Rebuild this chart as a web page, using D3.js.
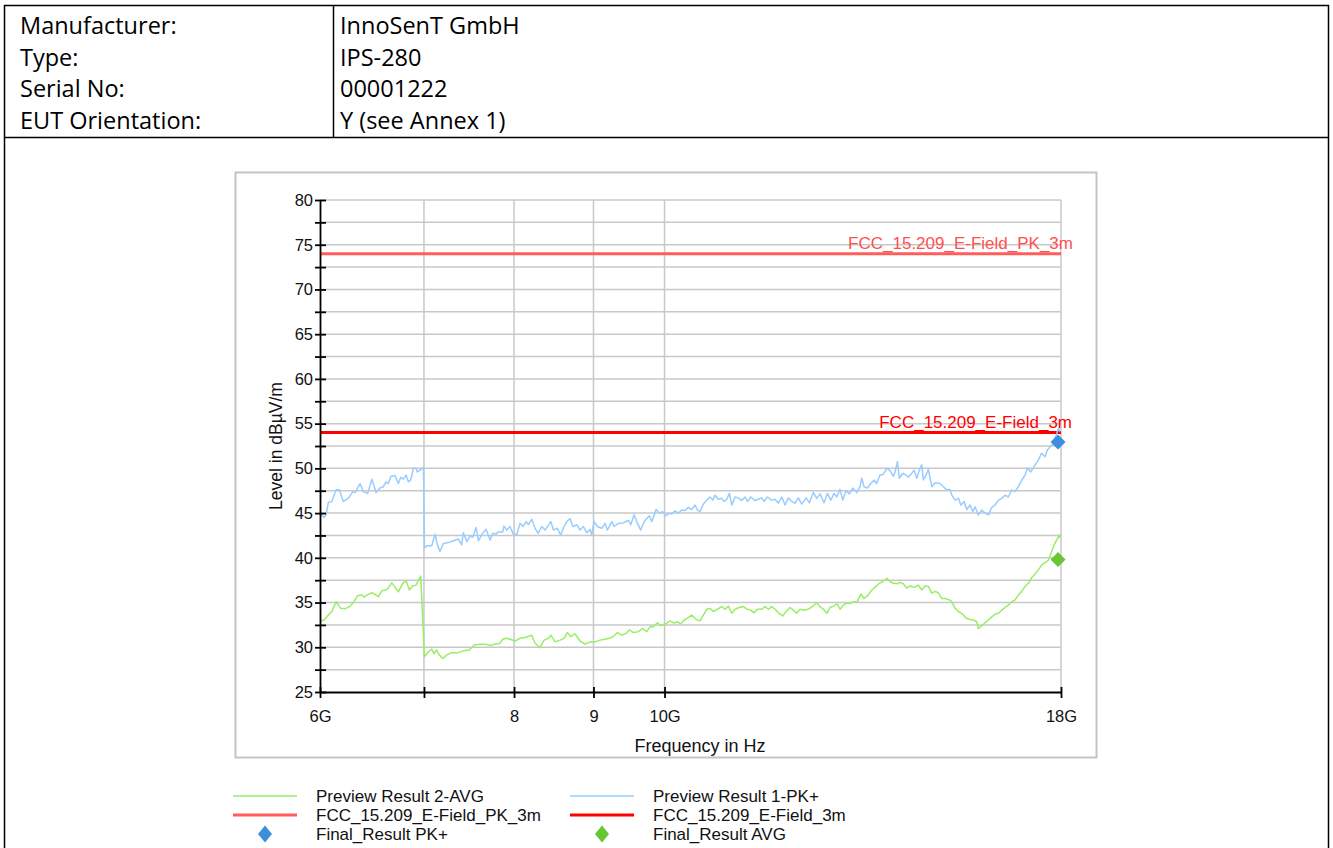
<!DOCTYPE html>
<html><head><meta charset="utf-8">
<script src="https://cdn.jsdelivr.net/npm/d3@7"></script>
<style>body{margin:0;background:#fff;}svg{display:block;}</style>
</head><body>
<svg id="c" width="1333" height="848"></svg>
<script>
// ---------- data ----------
const headerLabels = ["Manufacturer:", "Type:", "Serial No:", "EUT Orientation:"];
const headerValues = ["InnoSenT GmbH", "IPS-280", "00001222", "Y (see Annex 1)"];

const xTickValues = [6, 7, 8, 9, 10, 18];           // GHz
const xTickLabels = ["6G", "", "8", "9", "10G", "18G"];
const yMajorTicks = [25, 30, 35, 40, 45, 50, 55, 60, 65, 70, 75, 80];
const yMinorTicks = [27.5, 32.5, 37.5, 42.5, 47.5, 52.5, 57.5, 62.5, 67.5, 72.5, 77.5];

const limitPK = 74;   // FCC_15.209_E-Field_PK_3m
const limitAVG = 54;  // FCC_15.209_E-Field_3m

// Preview Result 1-PK+  [GHz, dBµV/m]
const pkTrace = [
[6.000,45.0],[6.036,44.5],[6.054,44.8],[6.075,46.2],[6.106,46.3],[6.145,47.6],[6.174,47.6],[6.211,46.3],[6.258,46.65],[6.299,47.4],
[6.320,47.3],[6.367,48.3],[6.398,47.4],[6.440,47.2],[6.479,48.8],[6.520,47.3],[6.558,47.8],[6.591,47.95],[6.617,48.5],[6.640,48.3],
[6.664,49.1],[6.706,49.2],[6.739,48.3],[6.763,49.0],[6.789,48.8],[6.817,49.25],[6.840,48.5],[6.864,48.7],[6.891,50.0],[6.918,50.0],
[6.931,49.6],[6.959,49.8],[6.995,50.1],[7.005,41.1],[7.029,41.35],[7.081,41.35],[7.116,42.65],[7.140,41.45],[7.168,40.7],[7.204,41.6],
[7.258,41.7],[7.312,41.9],[7.366,42.1],[7.403,41.45],[7.421,42.8],[7.459,41.8],[7.495,42.45],[7.525,42.3],[7.562,43.4],[7.588,41.9],
[7.637,42.75],[7.675,43.2],[7.721,42.0],[7.752,42.75],[7.789,42.65],[7.816,42.9],[7.867,42.9],[7.882,43.55],[7.914,43.1],[7.953,43.5],
[7.985,42.75],[8.032,42.55],[8.071,43.85],[8.111,43.5],[8.144,44.05],[8.172,43.7],[8.213,44.3],[8.253,43.3],[8.293,42.75],[8.335,43.5],
[8.377,43.1],[8.448,44.05],[8.481,43.1],[8.531,43.3],[8.573,42.55],[8.616,43.5],[8.651,44.05],[8.693,44.4],[8.728,43.5],[8.780,43.7],
[8.822,43.1],[8.866,43.5],[8.911,42.8],[8.955,43.2],[8.977,42.55],[9.008,44.05],[9.052,43.5],[9.111,43.3],[9.156,43.85],[9.187,43.1],
[9.248,44.05],[9.279,43.5],[9.338,43.85],[9.408,43.9],[9.478,44.2],[9.512,43.7],[9.558,44.8],[9.596,44.05],[9.653,43.1],[9.701,44.05],
[9.778,44.7],[9.813,44.05],[9.875,45.4],[9.923,45.0],[9.973,45.15],[10.022,44.7],[10.072,45.0],[10.108,44.9],[10.157,45.25],[10.207,45.0],
[10.258,45.35],[10.309,45.3],[10.360,45.65],[10.412,45.4],[10.463,45.9],[10.498,45.35],[10.540,45.15],[10.592,46.0],[10.646,46.45],[10.698,46.8],
[10.741,46.45],[10.778,47.0],[10.830,46.55],[10.885,46.65],[10.923,46.3],[10.966,46.55],[11.009,47.2],[11.048,45.9],[11.102,46.8],[11.156,46.7],
[11.212,46.4],[11.268,46.8],[11.307,46.3],[11.364,46.8],[11.436,46.4],[11.492,46.55],[11.550,46.7],[11.590,46.3],[11.647,46.8],[11.723,46.45],
[11.781,46.55],[11.838,46.1],[11.898,46.8],[11.956,45.9],[12.015,46.7],[12.076,46.3],[12.135,46.1],[12.194,46.7],[12.256,46.0],[12.335,46.7],
[12.395,46.15],[12.469,47.3],[12.532,46.65],[12.592,47.15],[12.668,46.15],[12.731,47.2],[12.795,46.45],[12.858,47.2],[12.909,46.8],[12.971,47.65],
[13.024,46.45],[13.088,47.5],[13.153,47.15],[13.219,47.8],[13.297,47.3],[13.362,47.95],[13.396,48.9],[13.442,47.95],[13.509,47.8],[13.577,48.3],
[13.643,48.7],[13.697,48.3],[13.764,49.25],[13.832,49.35],[13.903,50.0],[13.971,49.75],[14.040,49.1],[14.075,49.6],[14.123,50.75],[14.164,48.9],
[14.236,49.45],[14.306,49.25],[14.355,49.0],[14.428,49.45],[14.477,49.8],[14.534,48.9],[14.590,49.8],[14.642,50.4],[14.677,48.7],[14.737,49.25],
[14.787,49.9],[14.862,47.95],[14.934,48.4],[15.045,48.3],[15.119,47.95],[15.196,47.6],[15.271,47.65],[15.309,47.0],[15.384,46.45],[15.460,46.65],
[15.514,45.9],[15.591,46.3],[15.654,45.4],[15.731,45.9],[15.794,45.15],[15.847,45.7],[15.924,44.8],[16.005,45.35],[16.084,45.0],[16.163,44.8],
[16.245,45.65],[16.324,45.9],[16.404,46.45],[16.486,46.65],[16.568,47.0],[16.649,46.8],[16.733,47.6],[16.815,47.4],[16.897,47.95],[16.982,48.7],
[17.066,49.25],[17.125,50.0],[17.211,49.6],[17.295,50.2],[17.405,50.95],[17.493,51.7],[17.580,51.3],[17.640,52.05],[17.711,52.4],[17.798,52.8],
[17.887,53.9],[17.929,54.5],[17.974,54.1]
];

// Preview Result 2-AVG  [GHz, dBµV/m]
const avgTrace = [
[6.000,32.9],[6.036,33.05],[6.066,33.5],[6.106,34.0],[6.145,35.1],[6.187,34.35],[6.227,34.3],[6.274,34.6],[6.311,35.1],[6.342,35.75],
[6.383,35.85],[6.405,35.6],[6.436,35.85],[6.479,36.1],[6.510,35.9],[6.542,35.65],[6.575,36.3],[6.608,36.4],[6.630,36.5],[6.674,37.2],
[6.706,36.7],[6.739,36.2],[6.783,37.15],[6.817,37.45],[6.850,36.4],[6.884,36.85],[6.918,36.95],[6.966,37.95],[7.005,28.95],[7.046,29.5],
[7.081,29.8],[7.105,29.3],[7.133,29.7],[7.161,29.15],[7.198,28.75],[7.241,29.15],[7.295,29.4],[7.366,29.4],[7.421,29.6],[7.487,29.7],
[7.540,30.25],[7.606,30.35],[7.664,30.35],[7.721,30.2],[7.778,30.35],[7.835,30.45],[7.867,30.9],[7.906,31.0],[7.953,30.9],[8.012,30.7],
[8.071,31.0],[8.132,31.1],[8.213,31.35],[8.253,30.45],[8.314,29.95],[8.364,30.8],[8.418,31.0],[8.448,31.35],[8.502,30.6],[8.564,30.8],
[8.616,31.0],[8.658,31.65],[8.702,31.2],[8.758,31.5],[8.822,30.7],[8.888,30.35],[8.955,30.6],[9.021,30.6],[9.088,30.8],[9.156,30.9],
[9.215,31.0],[9.270,31.2],[9.325,31.65],[9.385,31.35],[9.446,31.55],[9.493,31.95],[9.549,31.65],[9.619,31.75],[9.682,32.1],[9.740,31.75],
[9.788,32.3],[9.836,32.3],[9.894,32.75],[9.943,32.4],[10.008,32.6],[10.082,32.95],[10.142,32.7],[10.192,32.85],[10.243,32.6],[10.294,33.05],
[10.345,33.25],[10.412,33.6],[10.479,33.1],[10.540,32.95],[10.592,33.6],[10.646,34.25],[10.698,34.35],[10.751,34.0],[10.814,34.25],[10.885,34.55],
[10.939,34.25],[10.993,34.6],[11.048,33.8],[11.102,34.25],[11.172,34.45],[11.240,34.55],[11.307,34.25],[11.364,34.15],[11.419,33.85],[11.475,34.25],
[11.550,34.25],[11.607,34.55],[11.665,34.25],[11.723,34.55],[11.781,34.25],[11.838,33.85],[11.916,33.5],[11.974,34.0],[12.046,34.45],[12.105,34.15],
[12.164,33.8],[12.224,34.25],[12.298,34.15],[12.377,34.25],[12.458,34.6],[12.532,34.95],[12.592,34.55],[12.655,34.25],[12.719,33.8],[12.782,34.45],
[12.844,34.6],[12.920,34.85],[12.971,34.25],[13.036,34.7],[13.102,34.95],[13.167,34.9],[13.232,35.1],[13.310,35.1],[13.376,35.95],[13.442,35.45],
[13.529,35.85],[13.597,36.4],[13.683,36.8],[13.750,37.15],[13.819,37.35],[13.903,37.7],[13.971,37.35],[14.040,37.15],[14.123,37.1],[14.178,37.25],
[14.249,37.1],[14.321,36.6],[14.392,36.85],[14.477,36.7],[14.569,36.95],[14.642,36.4],[14.715,36.85],[14.787,36.8],[14.862,36.05],[14.934,36.25],
[15.008,36.1],[15.083,35.45],[15.158,35.45],[15.255,35.3],[15.309,35.1],[15.384,34.35],[15.460,34.0],[15.561,33.7],[15.638,33.25],[15.731,33.1],
[15.808,33.05],[15.887,32.85],[15.924,32.1],[16.005,32.4],[16.084,32.75],[16.163,33.05],[16.245,33.4],[16.324,33.7],[16.404,33.8],[16.486,34.15],
[16.568,34.45],[16.649,34.7],[16.733,35.1],[16.815,35.3],[16.897,35.85],[16.982,36.25],[17.066,36.8],[17.150,37.15],[17.237,37.8],[17.321,38.2],
[17.405,38.65],[17.493,39.2],[17.580,39.45],[17.666,39.75],[17.755,40.7],[17.816,41.45],[17.887,42.0],[17.955,42.55],[17.974,42.2]
];

// Final results [GHz, dBµV/m]
const finalPK = [[17.921, 52.95]];
const finalAVG = [[17.921, 39.8]];

const legendItems = [
  {label: "Preview Result 2-AVG", type: "line", color: "#99ee66", width: 1.5},
  {label: "Preview Result 1-PK+", type: "line", color: "#99ccff", width: 1.5},
  {label: "FCC_15.209_E-Field_PK_3m", type: "line", color: "#ff5c5c", width: 3},
  {label: "FCC_15.209_E-Field_3m", type: "line", color: "#ff0000", width: 3},
  {label: "Final_Result PK+", type: "diamond", color: "#3d8fdc"},
  {label: "Final_Result AVG", type: "diamond", color: "#66c633"}
];

// ---------- drawing ----------
const svg = d3.select("#c");
const tableFont = "'Open Sans', 'Noto Sans', sans-serif";
const chartFont = "'Liberation Sans', Arial, sans-serif";
const diamondPath = (hw, hh) => `M0,${-hh}L${hw},0L0,${hh}L${-hw},0Z`;

// header table
const tbl = svg.append("g");
tbl.append("line").attr("x1",4).attr("x2",1329).attr("y1",5.5).attr("y2",5.5);
tbl.append("line").attr("x1",4).attr("x2",1329).attr("y1",137.5).attr("y2",137.5);
tbl.append("line").attr("x1",4.5).attr("x2",4.5).attr("y1",5).attr("y2",848);
tbl.append("line").attr("x1",1328.5).attr("x2",1328.5).attr("y1",5).attr("y2",848);
tbl.append("line").attr("x1",333.5).attr("x2",333.5).attr("y1",5).attr("y2",137);
tbl.selectAll("line").attr("stroke","#000").attr("stroke-width",1.5);
headerLabels.forEach((t,i)=>{
  tbl.append("text").attr("x",20).attr("y",34+i*31.7).text(t);
  tbl.append("text").attr("x",340).attr("y",34+i*31.7).text(headerValues[i]);
});
tbl.selectAll("text").attr("font-family",tableFont).attr("font-size",23.5).attr("fill","#000");

// chart frame
svg.append("rect").attr("x",235.5).attr("y",172.5).attr("width",861).attr("height",585)
  .attr("fill","#fff").attr("stroke","#c4c4c4").attr("stroke-width",2);

const x = d3.scaleLog().domain([6,18]).range([320,1061]);
const y = d3.scaleLinear().domain([25,80]).range([692,200]);

const g = svg.append("g");
// grid
const allY = yMajorTicks.concat(yMinorTicks);
g.selectAll(".hg").data(allY.filter(v=>v>25)).enter().append("line")
  .attr("x1",x(6)).attr("x2",x(18)).attr("y1",d=>y(d)).attr("y2",d=>y(d))
  .attr("stroke","#c8c8c8").attr("stroke-width",1.5);
g.selectAll(".vg").data(xTickValues.filter(v=>v>6)).enter().append("line")
  .attr("x1",d=>x(d)).attr("x2",d=>x(d)).attr("y1",y(25)).attr("y2",y(80))
  .attr("stroke","#c8c8c8").attr("stroke-width",1.5);

// limit lines
g.append("line").attr("x1",x(6)).attr("x2",x(18)).attr("y1",y(limitPK)).attr("y2",y(limitPK))
  .attr("stroke","#ff5c5c").attr("stroke-width",3);
g.append("line").attr("x1",x(6)).attr("x2",x(18)).attr("y1",y(limitAVG)).attr("y2",y(limitAVG))
  .attr("stroke","#ff0000").attr("stroke-width",3);

// traces
const line = d3.line().x(d=>x(d[0])).y(d=>y(d[1]));
g.append("path").datum(avgTrace).attr("d",line).attr("fill","none")
  .attr("stroke","#99ee66").attr("stroke-width",1.5).attr("stroke-linejoin","round");
g.append("path").datum(pkTrace).attr("d",line).attr("fill","none")
  .attr("stroke","#99ccff").attr("stroke-width",1.5).attr("stroke-linejoin","round");

// limit labels
g.append("text").attr("x",1073).attr("y",y(limitPK)-5).attr("text-anchor","end")
  .attr("font-family",chartFont).attr("font-size",17).attr("fill","#ff5050").text("FCC_15.209_E-Field_PK_3m");
g.append("text").attr("x",1072).attr("y",y(limitAVG)-5).attr("text-anchor","end")
  .attr("font-family",chartFont).attr("font-size",17).attr("fill","#ff0000").text("FCC_15.209_E-Field_3m");

// markers
g.selectAll(".mpk").data(finalPK).enter().append("path").attr("d",diamondPath(7.5,7.5))
  .attr("transform",d=>`translate(${x(d[0])},${y(d[1])})`).attr("fill","#3d8fdc");
g.selectAll(".mavg").data(finalAVG).enter().append("path").attr("d",diamondPath(7.5,7.5))
  .attr("transform",d=>`translate(${x(d[0])},${y(d[1])})`).attr("fill","#66c633");

// axes
const yAxis = d3.axisLeft(y).tickValues(allY).tickSizeInner(5).tickSizeOuter(0)
  .tickFormat(d=>yMajorTicks.includes(d)?d:"");
const ya = g.append("g").attr("transform","translate(320,0)").call(yAxis);
ya.selectAll(".tick line").attr("x1",-5).attr("x2",6).attr("stroke","#000").attr("stroke-width",1.8);
ya.select(".domain").attr("stroke","#000").attr("stroke-width",1.8);
ya.selectAll("text").attr("font-family",chartFont).attr("font-size",16.5).attr("fill","#111").attr("x",-7);

const xAxis = d3.axisBottom(x).tickValues(xTickValues).tickSizeInner(5).tickSizeOuter(0)
  .tickFormat((d,i)=>xTickLabels[i]);
const xa = g.append("g").attr("transform","translate(0,692)").call(xAxis);
xa.selectAll(".tick line").attr("y1",-5).attr("y2",6).attr("stroke","#000").attr("stroke-width",1.8);
xa.select(".domain").attr("stroke","#000").attr("stroke-width",1.8);
xa.selectAll("text").attr("font-family",chartFont).attr("font-size",16.5).attr("fill","#111").attr("y",18);

// axis titles
g.append("text").attr("x",700).attr("y",752).attr("text-anchor","middle")
  .attr("font-family",chartFont).attr("font-size",18).attr("fill","#111").text("Frequency in Hz");
g.append("text").attr("transform","translate(282,446) rotate(-90)").attr("text-anchor","middle")
  .attr("font-family",chartFont).attr("font-size",17.5).attr("fill","#111").text("Level in dBµV/m");

// legend
const lg = svg.append("g");
legendItems.forEach((it,i)=>{
  const col = i%2, row = Math.floor(i/2);
  const lx = col===0?233:570, ly = 796+row*19;
  if(it.type==="line"){
    lg.append("line").attr("x1",lx).attr("x2",lx+64).attr("y1",ly).attr("y2",ly)
      .attr("stroke",it.color).attr("stroke-width",it.width);
  } else {
    lg.append("path").attr("d",diamondPath(7,8.5)).attr("transform",`translate(${lx+32},${ly})`).attr("fill",it.color);
  }
  lg.append("text").attr("x",lx+83).attr("y",ly+6).attr("font-family",chartFont)
    .attr("font-size",17).attr("fill","#111").text(it.label);
});
</script>
</body></html>
